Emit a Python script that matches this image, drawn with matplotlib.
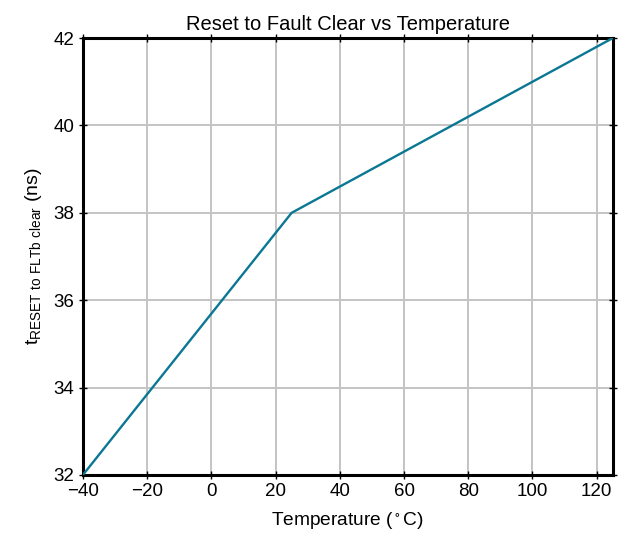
import matplotlib
matplotlib.use('Agg')
import matplotlib.pyplot as plt

temp = [-40, 25, 125]
t_reset = [32, 38, 42]
xticks = [-40, -20, 0, 20, 40, 60, 80, 100, 120]
yticks = [32, 34, 36, 38, 40, 42]

plt.rcParams['font.family'] = ['Liberation Sans', 'DejaVu Sans']
plt.rcParams['mathtext.fontset'] = 'custom'
plt.rcParams['mathtext.rm'] = 'Liberation Sans'
plt.rcParams['mathtext.default'] = 'regular'

fig = plt.figure(figsize=(6.33, 5.44), dpi=100)
ax = fig.add_axes([0.131, 0.127, 0.837, 0.803])
ax.plot(temp, t_reset, color='#0a7893', lw=1.7, zorder=3)
ax.set_xlim(-40, 125)
ax.set_ylim(32, 42)
ax.set_xticks(xticks)
ax.set_yticks(yticks)
ax.set_xticklabels(['\u2212' + str(-v) if v < 0 else str(v) for v in xticks])
ax.grid(True, color='#c4c4c4', lw=1.4)
ax.tick_params(direction='inout', length=6, width=1, labelsize=13.5,
               top=True, right=True, pad=3)
for s in ax.spines.values():
    s.set_linewidth(2.2)
ax.set_title('Reset to Fault Clear vs Temperature', fontsize=14.5, pad=6)
ax.set_xlabel(r'Temperature ($^\circ$C)', fontsize=13.8, labelpad=7)
ax.set_ylabel(r'$t_{RESET\ to\ FLTb\ clear}$ (ns)', fontsize=14, labelpad=7)
fig.savefig('out.png', dpi=100)
